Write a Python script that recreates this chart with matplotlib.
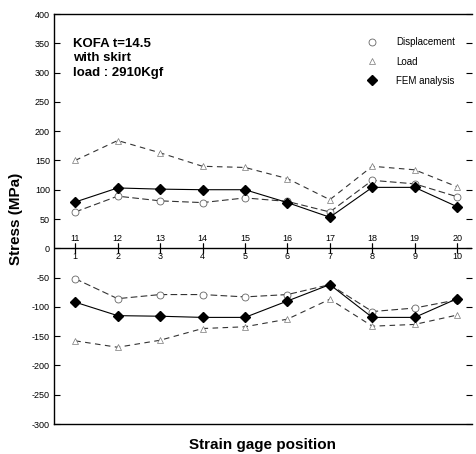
import matplotlib
matplotlib.use("Agg")
import matplotlib.pyplot as plt
import numpy as np

plt.rcParams['font.family'] = ['Liberation Sans', 'DejaVu Sans']

positions = np.arange(1, 11)
lower_labels = [str(i) for i in range(1, 11)]
upper_labels = [str(i) for i in range(11, 21)]

# Upper group (gages 11-20, positive stress)
disp_up = [62, 89, 81, 78, 86, 80, 62, 116, 110, 88]
load_up = [150, 184, 163, 140, 138, 119, 83, 140, 134, 105]
fem_up = [79, 103, 101, 100, 100, 78, 53, 104, 104, 71]

# Lower group (gages 1-10, negative stress)
disp_lo = [-52, -86, -79, -79, -83, -79, -62, -108, -102, -88]
load_lo = [-158, -169, -157, -137, -134, -121, -87, -133, -130, -114]
fem_lo = [-92, -115, -116, -118, -118, -90, -62, -118, -118, -86]

yticks = list(range(-300, 401, 50))

fig = plt.figure(figsize=(4.77, 4.54), dpi=100)
ax = fig.add_axes([54/477, 30/454, 418/477, 410/454])

line_col = '#333333'
for d, l, f in [(disp_up, load_up, fem_up), (disp_lo, load_lo, fem_lo)]:
    ax.plot(positions, d, color=line_col, lw=0.8, ls=(0, (6, 3)),
            marker='o', ms=5, mfc='white', mec='#666666', mew=0.6)
    ax.plot(positions, l, color=line_col, lw=0.8, ls=(0, (5, 4)),
            marker='^', ms=4.5, mfc='white', mec='#777777', mew=0.5)
    ax.plot(positions, f, color='black', lw=0.8,
            marker='D', ms=5.5, mfc='black', mec='black')

# legend handles (markers only)
h1, = ax.plot([], [], ls='none', marker='o', ms=5, mfc='white', mec='#666666', mew=0.6)
h2, = ax.plot([], [], ls='none', marker='^', ms=4.5, mfc='white', mec='#777777', mew=0.5)
h3, = ax.plot([], [], ls='none', marker='D', ms=5.5, mfc='black', mec='black')
leg = ax.legend([h1, h2, h3], ['Displacement', 'Load', 'FEM analysis'],
                loc='upper right', bbox_to_anchor=(0.96, 0.943), frameon=False,
                fontsize=7, handletextpad=1.5, labelspacing=0.95, borderaxespad=0,
                borderpad=0)

ax.set_xlim(0.5, 10.35)
ax.set_ylim(-300, 400)
ax.set_yticks(yticks)
ax.set_yticklabels([str(v) for v in yticks], fontsize=6.5)
ax.tick_params(axis='y', direction='in', length=4, width=0.8, left=True, right=True, labelleft=True, pad=3)
ax.tick_params(axis='x', bottom=False, labelbottom=False)
for s in ['left', 'top', 'bottom']:
    ax.spines[s].set_linewidth(1.0)
ax.spines['right'].set_visible(False)

ax.axhline(0, color='black', lw=1.0)
zero_pos = 300 / 700
sec_top = ax.secondary_xaxis(zero_pos)
sec_top.set_alignment('top')
sec_top.set_xticks(positions)
sec_top.set_xticklabels(upper_labels, fontsize=6.5)
sec_top.tick_params(direction='inout', length=7, width=0.8, pad=0.5)
sec_top.spines['top'].set_visible(False)
sec_bot = ax.secondary_xaxis(zero_pos)
sec_bot.set_alignment('bottom')
sec_bot.set_xticks(positions)
sec_bot.set_xticklabels(lower_labels, fontsize=6.5)
sec_bot.tick_params(direction='inout', length=7, width=0.8, pad=-0.5)
sec_bot.spines['bottom'].set_visible(False)

ax.text(0.045, 0.942, 'KOFA t=14.5\nwith skirt\nload : 2910Kgf', transform=ax.transAxes,
        fontsize=9.5, fontweight='bold', va='top', ha='left', linespacing=1.3)

ax.set_ylabel('Stress (MPa)', fontsize=11, fontweight='bold', labelpad=6)
ax.set_xlabel('Strain gage position', fontsize=11, fontweight='bold', labelpad=10)

fig.savefig('out.png', dpi=100)
